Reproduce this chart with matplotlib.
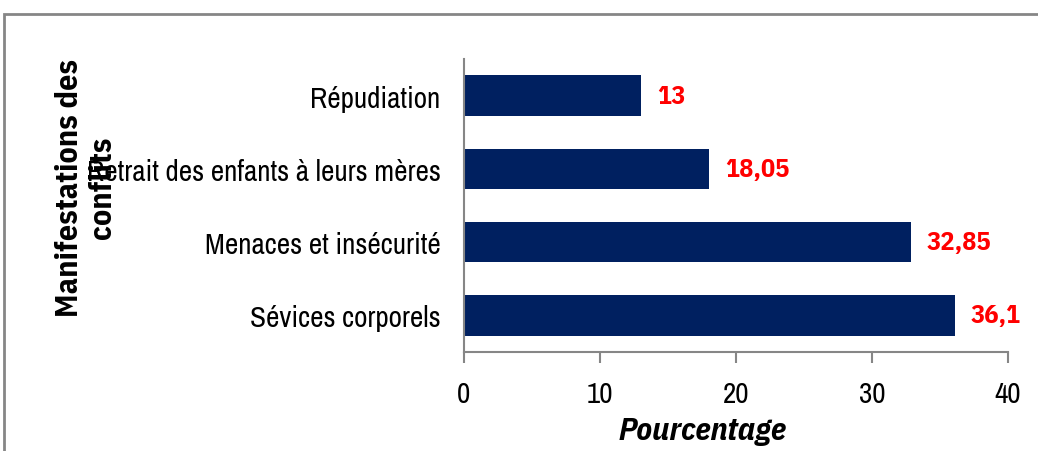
import matplotlib
matplotlib.use('Agg')
import matplotlib.pyplot as plt
from matplotlib.patches import Rectangle

# Narrow fonts like the original (Arial Narrow), fall back if missing
plt.rcParams['font.family'] = ['Archivo Narrow', 'Liberation Sans', 'DejaVu Sans']
bold_family = ['IBM Plex Sans Condensed', 'Fira Sans Condensed', 'Liberation Sans', 'DejaVu Sans']

# Data (bottom to top)
categories = ['Sévices corporels', 'Menaces et insécurité',
              'Retrait des enfants à leurs mères', 'Répudiation']
values = [36.1, 32.85, 18.05, 13]
value_labels = ['36,1', '32,85', '18,05', '13']
x_ticks = [0, 10, 20, 30, 40]

bar_color = '#002060'
grey = '#868686'

fig = plt.figure(figsize=(10.38, 4.52), dpi=100)
ax = fig.add_axes([464/1038, 1 - 353/452, (1008 - 464)/1038, (353 - 60)/452])

# Outer chart border
fig.patches.append(Rectangle((4/1038, -0.1), 1.2, 1 - 15/452 + 0.1, transform=fig.transFigure,
                             fill=False, edgecolor=grey, linewidth=2))

ypos = range(len(categories))
ax.barh(ypos, values, height=0.55, color=bar_color)

for y, v, lab in zip(ypos, values, value_labels):
    ax.annotate(lab, (v, y), xytext=(16, 0), textcoords='offset pixels',
                va='center', ha='left', color='red', fontweight='bold', fontsize=19,
                family=bold_family)

ax.set_xlim(0, 40)
ax.set_ylim(-0.5, 3.5)
ax.set_xticks(x_ticks)
ax.set_xticklabels([str(t) for t in x_ticks], fontsize=21)
ax.set_yticks(list(ypos))
ax.set_yticklabels(categories, fontsize=21)
ax.tick_params(axis='x', direction='out', length=8, width=1.5, color=grey, pad=12)
ax.tick_params(axis='y', length=0, pad=17)

for s in ['top', 'right']:
    ax.spines[s].set_visible(False)
for s in ['left', 'bottom']:
    ax.spines[s].set_color(grey)
    ax.spines[s].set_linewidth(1.5)

ax.set_xlabel('Pourcentage', fontsize=23, fontweight='bold', fontstyle='italic',
              family=bold_family, va='center')
ax.xaxis.set_label_coords((703 - 464) / 544, (353 - 432) / 293)

fig.text(86/1038, 1 - 188/452, 'Manifestations des\nconflits', rotation=90,
         ha='center', va='center', fontsize=23, fontweight='bold', linespacing=1.2,
         family=bold_family)

fig.savefig('out.png', dpi=100)
